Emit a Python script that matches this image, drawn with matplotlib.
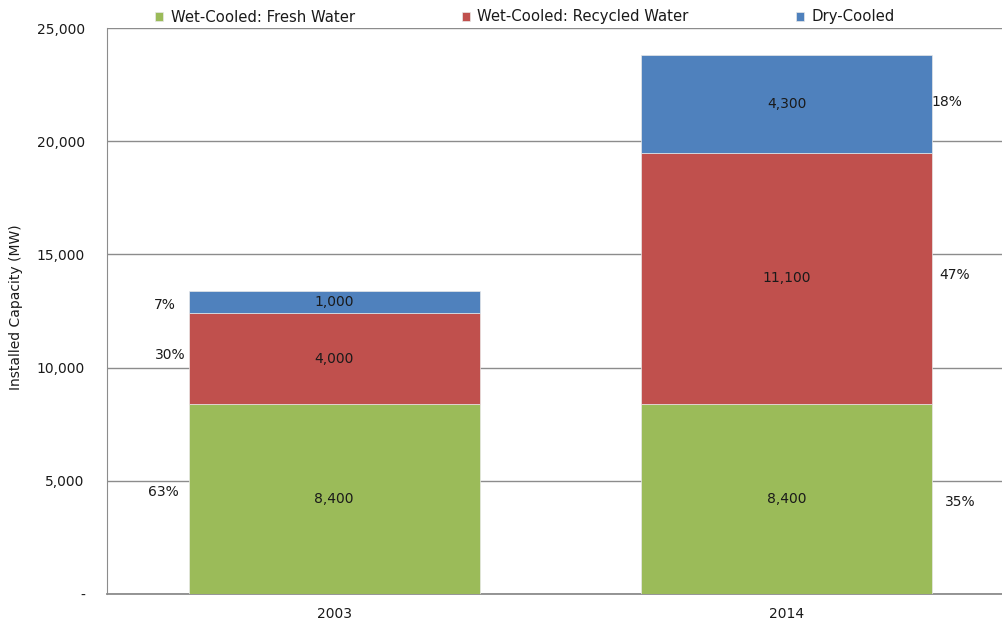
import matplotlib
matplotlib.use("Agg")
import matplotlib.pyplot as plt
import numpy as np

years = ["2003", "2014"]
series_names = ["Wet-Cooled: Fresh Water", "Wet-Cooled: Recycled Water", "Dry-Cooled"]
fresh = [8400, 8400]
recycled = [4000, 11100]
dry = [1000, 4300]
colors = ["#9BBB59", "#C0504D", "#4F81BD"]

# percentage labels shown beside the bars
pct_2003 = ["63%", "30%", "7%"]
pct_2014 = ["35%", "47%", "18%"]
pct_y_2003 = [4500, 10550, 12750]
pct_y_2014 = [4060, 14080, 21710]

fig = plt.figure(figsize=(10.03, 6.26), dpi=100)
ax = fig.add_axes([107/1003, 32/626, 896/1003, 566/626])

x = np.arange(len(years)) + np.array([0.0, 0.01])
width = 0.65
bottom = np.zeros(len(years))
for vals, c, name in zip([fresh, recycled, dry], colors, series_names):
    ax.bar(x, vals, width, bottom=bottom, color=c, label=name,
           edgecolor="#e8e8e8", linewidth=0.5, zorder=3)
    for xi, v, bt in zip(x, vals, bottom):
        ax.text(xi, bt + v / 2, f"{v:,}", ha="center", va="center",
                fontsize=10, color="#1a1a1a", zorder=4)
    bottom = bottom + np.array(vals)

for t, y, dx in zip(pct_2003, pct_y_2003, [-0.382, -0.366, -0.377]):
    ax.text(0 + dx, y, t, ha="center", va="center", fontsize=10, color="#1a1a1a")
for t, y, dx in zip(pct_2014, pct_y_2014, [0.398, 0.384, 0.367]):
    ax.text(1 + dx, y, t, ha="center", va="center", fontsize=10, color="#1a1a1a")

ax.set_xlim(-0.507, 1.493)
ax.set_ylim(0, 25000)
ax.set_yticks(np.arange(0, 25001, 5000))
ax.set_yticklabels(["-"] + [f"{v:,}" for v in range(5000, 25001, 5000)], fontsize=10, color="#1a1a1a")
ax.set_xticks(x)
ax.set_xticklabels(years, fontsize=10, color="#1a1a1a")
ax.tick_params(axis="both", length=0)
ax.tick_params(axis="y", pad=16)
ax.tick_params(axis="x", pad=9)
ax.yaxis.grid(True, color="#8c8c8c", linewidth=1.0, zorder=0)
ax.set_axisbelow(True)
for s in ["top", "right"]:
    ax.spines[s].set_visible(False)
ax.spines["left"].set_color("#8c8c8c")
ax.spines["bottom"].set_color("#8c8c8c")
ax.spines["bottom"].set_linewidth(1.3)

ax.set_ylabel("Installed Capacity (MW)", fontsize=10, color="#1a1a1a")
ax.yaxis.set_label_coords(-0.094, 0.507)

leg = fig.legend(loc="center left", bbox_to_anchor=(155/1003, 1 - 17/626), ncol=3,
                 frameon=False, fontsize=10.7, handlelength=0.55, handleheight=0.55,
                 handletextpad=0.5, columnspacing=7.2, borderaxespad=0, borderpad=0)
for t in leg.get_texts():
    t.set_color("#1a1a1a")

fig.savefig("out.png", dpi=100)
